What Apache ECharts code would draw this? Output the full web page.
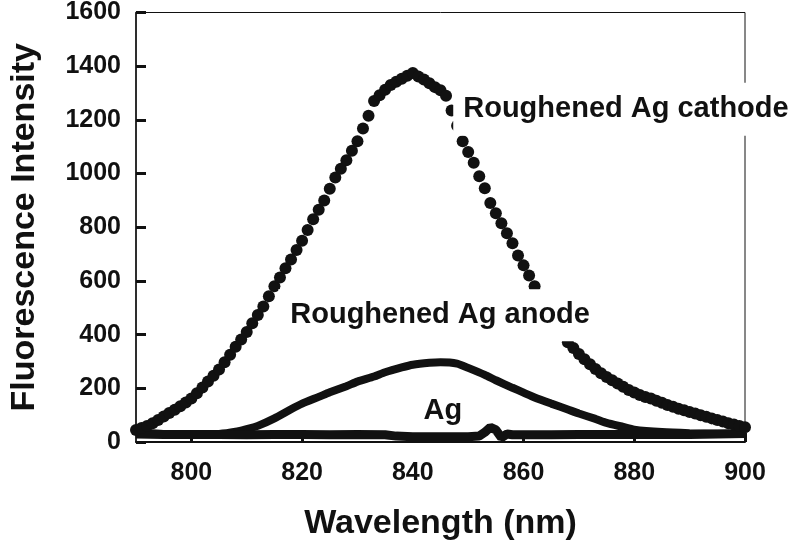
<!DOCTYPE html>
<html>
<head>
<meta charset="utf-8">
<script src="https://cdn.jsdelivr.net/npm/echarts@6/dist/echarts.min.js"></script>
<style>html,body{margin:0;padding:0;background:#fff}#c{width:800px;height:546px}</style>
</head>
<body>
<div id="c"></div>
<script>
// ---- data ----
var xTicks = [800, 820, 840, 860, 880, 900];
var yTicks = [0, 200, 400, 600, 800, 1000, 1200, 1400, 1600];

// Roughened Ag cathode (dots), 1 nm step from 790 nm
var cathodeStart = 790;
var cathodeValues = [
  45,52,60,70,82,95,108,120,133,147,
  162,182,203,225,247,270,297,325,355,382,
  410,442,473,505,543,580,613,647,680,715,
  750,790,830,865,900,943,985,1018,1050,1085,
  1120,1168,1215,1270,1292,1312,1330,1342,1353,1364,
  1375,1362,1350,1336,1322,1310,1290,1235,1178,1120,
  1080,1040,990,945,890,852,815,778,740,695,
  658,620,580,545,510,475,440,405,372,350,
  328,308,290,272,256,242,230,218,206,194,
  184,175,168,162,154,146,138,131,124,118,
  112,106,100,94,88,82,76,70,65,60,
  55
];

// Roughened Ag anode (thick line)
var anodeX = [790,795,800,805,808,810,812,815,818,820,823,825,828,830,833,835,838,840,843,845,848,850,853,855,858,860,862,865,868,870,873,875,878,880,885,890,895,900];
var anodeY = [35,30,28,30,38,48,60,88,122,143,168,185,208,225,244,260,278,288,295,297,292,276,250,230,202,184,166,143,121,106,86,71,56,46,37,33,31,30];

// Ag (thick line)
var agX = [790,795,800,805,810,815,820,825,830,835,837,840,845,850,852,853,854,855,856,857,858,860,865,870,875,880,885,890,895,900];
var agY = [30,28,28,28,27,28,28,27,28,27,22,20,20,20,22,36,55,45,16,30,27,27,27,28,28,28,28,28,30,32];

var labels = [
  {text: 'Roughened Ag cathode', x: 847.3, y: 1240, pad: [13, 8, 11, 10]},
  {text: 'Roughened Ag anode', x: 815.7, y: 472, pad: [12, 8, 11, 12]},
  {text: 'Ag', x: 841.4, y: 114, pad: [2, 3, 2, 3]}
];

var cathodeData = cathodeValues.map(function (v, i) { return [cathodeStart + i, v]; });
var anodeData = anodeX.map(function (x, i) { return [x, anodeY[i]]; });
var agData = agX.map(function (x, i) { return [x, agY[i]]; });

var FONT = '"Liberation Sans", Arial, Helvetica, sans-serif';
var fmt = function (v) { return String(v); };
var chart = echarts.init(document.getElementById('c'), null, {renderer: 'canvas'});

chart.setOption({
  backgroundColor: '#fff',
  animation: false,
  grid: {left: 123, right: 55, top: 10, bottom: 102, show: true, borderColor: '#111', borderWidth: 1, backgroundColor: 'transparent'},
  xAxis: {
    type: 'value', min: 790, max: 900,
    name: 'Wavelength (nm)', nameLocation: 'middle', nameGap: 65,
    nameTextStyle: {fontFamily: FONT, fontWeight: 'bold', fontSize: 34, color: '#111'},
    axisLine: {show: true, lineStyle: {color: '#111', width: 2}},
    axisTick: {show: true, inside: true, length: 9, lineStyle: {color: '#111', width: 3}, customValues: xTicks},
    axisLabel: {fontFamily: FONT, fontWeight: 'bold', fontSize: 25, color: '#111', margin: 19, customValues: xTicks, formatter: fmt},
    splitLine: {show: false}
  },
  yAxis: {
    type: 'value', min: 0, max: 1600, interval: 200,
    name: 'Fluorescence Intensity', nameLocation: 'middle', nameGap: 94,
    nameTextStyle: {fontFamily: FONT, fontWeight: 'bold', fontSize: 34, color: '#111'},
    axisLine: {show: true, lineStyle: {color: '#111', width: 1.5}},
    axisTick: {show: true, inside: true, length: 10, lineStyle: {color: '#111', width: 3}},
    axisLabel: {fontFamily: FONT, fontWeight: 'bold', fontSize: 25, color: '#111', margin: 15, formatter: fmt},
    splitLine: {show: false}
  },
  series: [
    {type: 'scatter', name: 'cathode', data: cathodeData, symbol: 'circle', symbolSize: 12,
      itemStyle: {color: '#111', opacity: 1}, z: 3},
    {type: 'line', name: 'anode', data: anodeData, showSymbol: false, smooth: 0.2,
      lineStyle: {color: '#111', width: 8}, z: 2},
    {type: 'line', name: 'Ag', data: agData, showSymbol: false,
      lineStyle: {color: '#111', width: 9}, z: 2}
  ]
});

var graphics = labels.map(function (l) {
  var p = chart.convertToPixel({xAxisIndex: 0, yAxisIndex: 0}, [l.x, l.y]);
  return {
    type: 'text', x: p[0], y: p[1], z: 100,
    style: {
      text: l.text, fill: '#111', font: 'bold 29px ' + FONT,
      align: 'left', verticalAlign: 'middle',
      backgroundColor: '#fff', padding: l.pad
    }
  };
});
chart.setOption({graphic: graphics});
</script>
</body>
</html>
